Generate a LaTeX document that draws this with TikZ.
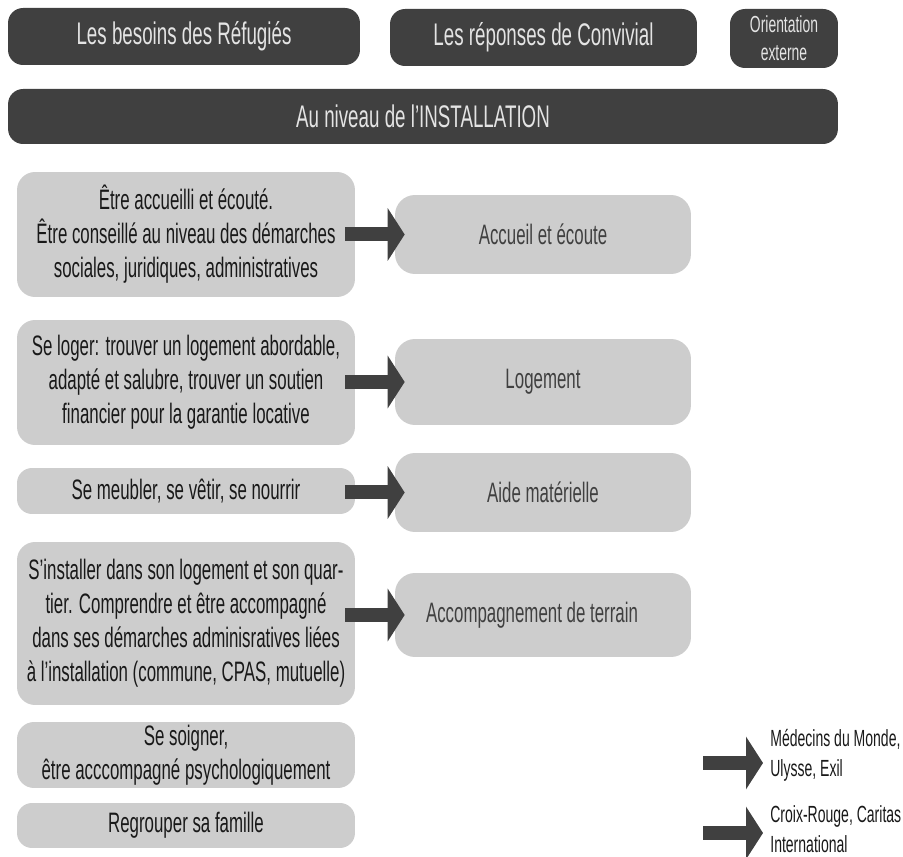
\documentclass[tikz,border=0pt]{standalone}
\usepackage{fontspec}
\setmainfont[FakeStretch=0.6]{Liberation Sans}
\usepackage{xcolor}
\usepackage{tikz}
\usetikzlibrary{arrows.meta, positioning}
\definecolor{sombre}{RGB}{64,64,64}
\definecolor{clair}{RGB}{205,205,205}
\definecolor{textclair}{RGB}{228,228,228}

\begin{document}
\begin{tikzpicture}[
    x=0.02cm, y=-0.02cm,
    titre/.style={fill=sombre, text=textclair, rounded corners=0.3cm, minimum height=1.14cm, inner sep=0pt, align=center, font=\fontsize{17.8}{20}\selectfont},
    besoin/.style={fill=clair, rounded corners=0.36cm, minimum width=6.76cm, minimum height=#1, inner sep=0pt, align=center, text=black!90, font=\fontsize{16}{19.3}\selectfont},
    reponse/.style={fill=clair, rounded corners=0.4cm, minimum width=5.92cm, minimum height=#1, inner sep=0pt, text=sombre, font=\fontsize{16}{19.3}\selectfont},
    fleche/.style={sombre, line width=0.28cm, -{Triangle[length=0.34cm, width=1.04cm]}, shorten <=-0.2cm, shorten >=-0.2cm},
    externe/.style={anchor=west, align=left, inner sep=0pt, text=black!90, font=\fontsize{13.3}{17}\selectfont}
]
\useasboundingbox (0,0) rectangle (903,857);

% En-tetes
\node[titre, minimum width=7.04cm] (t1) at (184, 36.5) {Les besoins des Réfugiés};
\node[titre, minimum width=6.14cm] (t2) at (543.5, 37.5) {Les réponses de Convivial};
\node[titre, minimum width=2.16cm, minimum height=1.18cm, font=\fontsize{13.2}{16}\selectfont] (t3) at (784, 38.5) {Orientation\\externe};
\node[titre, minimum width=16.6cm, minimum height=1.1cm] (niveau) at (423, 116.5) {Au niveau de l’INSTALLATION};

% Besoins
\node[besoin=2.5cm] (b1) at (186, 234.5) {Être accueilli et écouté.\\Être conseillé au niveau des démarches\\sociales, juridiques, administratives};
\node[besoin=2.5cm] (b2) at (186, 382.5) {Se loger: trouver un logement abordable,\\adapté et salubre, trouver un soutien\\financier pour la garantie locative};
\node[besoin=0.92cm, rounded corners=0.3cm] (b3) at (186, 491) {Se meubler, se vêtir, se nourrir};
\node[besoin=3.26cm] (b4) at (186, 623.5) {S’installer dans son logement et son quar-\\tier. Comprendre et être accompagné\\dans ses démarches adminisratives liées\\à l’installation (commune, CPAS, mutuelle)};
\node[besoin=1.32cm, rounded corners=0.34cm] (b5) at (186, 755) {Se soigner,\\être acccompagné psychologiquement};
\node[besoin=0.9cm, rounded corners=0.3cm] (b6) at (186, 825.5) {Regrouper sa famille};

% Reponses
\node[reponse=1.58cm] (r1) at (543, 234.5) {Accueil et écoute};
\node[reponse=1.72cm] (r2) at (543, 382) {Logement};
\node[reponse=1.58cm] (r3) at (543, 492.5) {Aide matérielle};
\node[reponse=1.68cm] (r4) at (543, 615) {\hspace*{-0.44cm}Accompagnement de terrain};

% Orientation externe
\node[externe] (e1) at (770, 755) {Médecins du Monde,\\Ulysse, Exil};
\node[externe] (e2) at (770, 829) {Croix-Rouge, Caritas\\International};

% Fleches
\draw[fleche] (b1.east |- r1.west) -- (r1.west);
\draw[fleche] (b2.east |- r2.west) -- (r2.west);
\draw[fleche] (b3.east |- r3.west) -- (r3.west);
\draw[fleche] (b4.east |- r4.west) -- (r4.west);
\draw[fleche] ([xshift=-1.14cm, yshift=-0.16cm]e1.west) -- ([xshift=-0.34cm, yshift=-0.16cm]e1.west);
\draw[fleche] ([xshift=-1.14cm, yshift=-0.08cm]e2.west) -- ([xshift=-0.34cm, yshift=-0.08cm]e2.west);

\end{tikzpicture}
\end{document}
